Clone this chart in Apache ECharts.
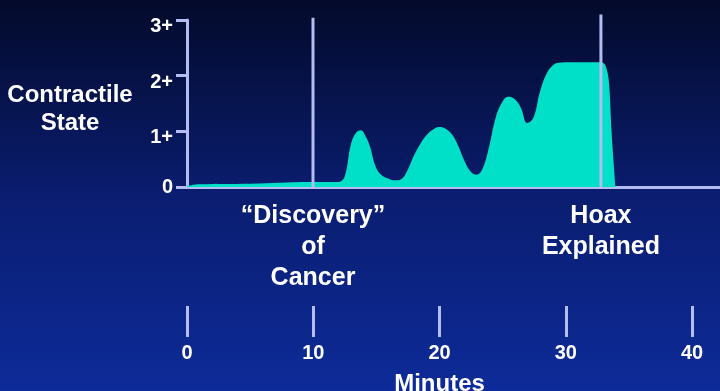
<!DOCTYPE html>
<html>
<head>
<meta charset="utf-8">
<script src="https://cdn.jsdelivr.net/npm/echarts@6/dist/echarts.min.js"></script>
<style>
html,body{margin:0;padding:0;background:#061550;}
#c{width:720px;height:391px;}
</style>
</head>
<body>
<div id="c"></div>
<script>
// Minutes (x) and contractile state (y)
var minutes = [0, 1.0, 5.0, 9.8, 11.3, 12.0, 12.5, 13.0, 13.4, 13.8, 14.2, 14.5, 15.0, 15.5, 16.0, 16.5, 17.0, 17.5, 18.0, 18.5, 19.0, 19.5, 20.0, 20.5, 21.0, 21.5, 22.0, 22.5, 23.0, 23.5, 24.0, 24.5, 25.0, 25.5, 26.0, 26.5, 27.0, 27.5, 28.0, 28.5, 29.0, 29.5, 30.5, 31.5, 32.5, 33.0, 33.3, 33.5, 33.7, 34.0];
var state   = [0.02, 0.05, 0.06, 0.09, 0.09, 0.09, 0.18, 0.76, 0.97, 1.02, 0.9, 0.74, 0.35, 0.2, 0.15, 0.12, 0.14, 0.3, 0.56, 0.77, 0.93, 1.03, 1.08, 1.05, 0.95, 0.75, 0.48, 0.28, 0.22, 0.35, 0.75, 1.25, 1.52, 1.62, 1.58, 1.42, 1.15, 1.25, 1.7, 2.02, 2.18, 2.23, 2.24, 2.24, 2.24, 2.23, 2.12, 1.85, 0.97, 0.0];
var yTickLabels = ['0', '1+', '2+', '3+'];
var minuteTicks = [0, 10, 20, 30, 40];
var eventMinutes = [10, 32.85];
var eventLabels = ['\u201CDiscovery\u201D\nof\nCancer', 'Hoax\nExplained'];
var eventTops = [3.04, 3.1];
var yTitle = 'Contractile\nState';
var xTitle = 'Minutes';

var axisColor = '#B3BDF2';
var font = '"Liberation Sans", Arial, sans-serif';
var chart = echarts.init(document.getElementById('c'), null, {renderer: 'canvas'});

var points = minutes.map(function (m, i) { return [m, state[i]]; });

// vertical event lines: one segment per event, separated by gaps
var eventData = [];
eventMinutes.forEach(function (m, i) {
  if (i > 0) eventData.push('-');
  eventData.push({
    value: [m, 0],
    label: {
      show: true, position: 'bottom', distance: 13, formatter: eventLabels[i],
      color: '#FFFFFF', fontSize: 25, fontWeight: 'bold', fontFamily: font, lineHeight: 31, align: 'center'
    }
  });
  eventData.push({value: [m, eventTops[i]], label: {show: false}});
});

chart.setOption({
  backgroundColor: {
    type: 'linear', x: 0, y: 0, x2: 0, y2: 1,
    colorStops: [
      {offset: 0, color: '#030A2A'},
      {offset: 0.5, color: '#0A1D70'},
      {offset: 1, color: '#0D2B99'}
    ]
  },
  animation: false,
  title: {
    text: yTitle, left: 70, top: 81, textAlign: 'center', padding: 0,
    textStyle: {color: '#FFFFFF', fontSize: 24, fontWeight: 'bold', fontFamily: font, lineHeight: 28}
  },
  grid: [
    {left: 187, right: 0, top: 20, bottom: 204, outerBoundsMode: 'none', containLabel: false},
    {left: 187, right: 28, top: 276, height: 30, outerBoundsMode: 'none', containLabel: false}
  ],
  xAxis: [
    {
      type: 'value', gridIndex: 0, min: 0, max: 42.3,
      axisLine: {show: true, lineStyle: {color: axisColor, width: 3}},
      axisTick: {show: false}, axisLabel: {show: false}, splitLine: {show: false}
    },
    {
      type: 'value', gridIndex: 1, min: 0, max: 40, interval: 10,
      position: 'bottom',
      axisLine: {show: false},
      axisTick: {show: true, length: 31, lineStyle: {color: axisColor, width: 3}},
      axisLabel: {
        show: true, margin: 37, color: '#FFFFFF', fontSize: 20, fontWeight: 'bold', fontFamily: font,
        formatter: function (v) { return minuteTicks.indexOf(v) >= 0 ? String(v) : ''; }
      },
      splitLine: {show: false},
      name: xTitle, nameLocation: 'middle', nameGap: 66,
      nameTextStyle: {color: '#FFFFFF', fontSize: 24, fontWeight: 'bold', fontFamily: font}
    }
  ],
  yAxis: [
    {
      type: 'value', gridIndex: 0, min: 0, max: 3, interval: 1,
      axisLine: {show: true, lineStyle: {color: axisColor, width: 3}},
      axisTick: {show: true, length: 11, lineStyle: {color: axisColor, width: 3}},
      axisLabel: {
        margin: 14, color: '#FFFFFF', fontSize: 20, fontWeight: 'bold', fontFamily: font,
        formatter: function (v) {
          var i = Math.round(v);
          return i === 0 ? '{z|' + yTickLabels[i] + '}' : '{p|' + yTickLabels[i] + '}';
        },
        rich: {
          z: {color: '#FFFFFF', fontSize: 20, fontWeight: 'bold', fontFamily: font},
          p: {color: '#FFFFFF', fontSize: 20, fontWeight: 'bold', fontFamily: font, padding: [13, 0, 0, 0]}
        }
      },
      splitLine: {show: false}
    },
    {type: 'value', gridIndex: 1, min: 0, max: 1, show: false}
  ],
  series: [
    {
      type: 'line', xAxisIndex: 0, yAxisIndex: 0,
      data: points, smooth: 0.4, showSymbol: false, clip: false,
      lineStyle: {width: 0, color: '#00DFC8'},
      areaStyle: {color: '#00DFC8', opacity: 1},
      z: 2
    },
    {
      type: 'line', xAxisIndex: 0, yAxisIndex: 0,
      data: eventData, connectNulls: false, clip: false,
      symbol: 'circle', symbolSize: 1, showSymbol: true, showAllSymbol: true, silent: true,
      itemStyle: {color: 'rgba(0,0,0,0)', borderWidth: 0},
      lineStyle: {color: axisColor, width: 3},
      z: 3
    }
  ]
});
</script>
</body>
</html>
